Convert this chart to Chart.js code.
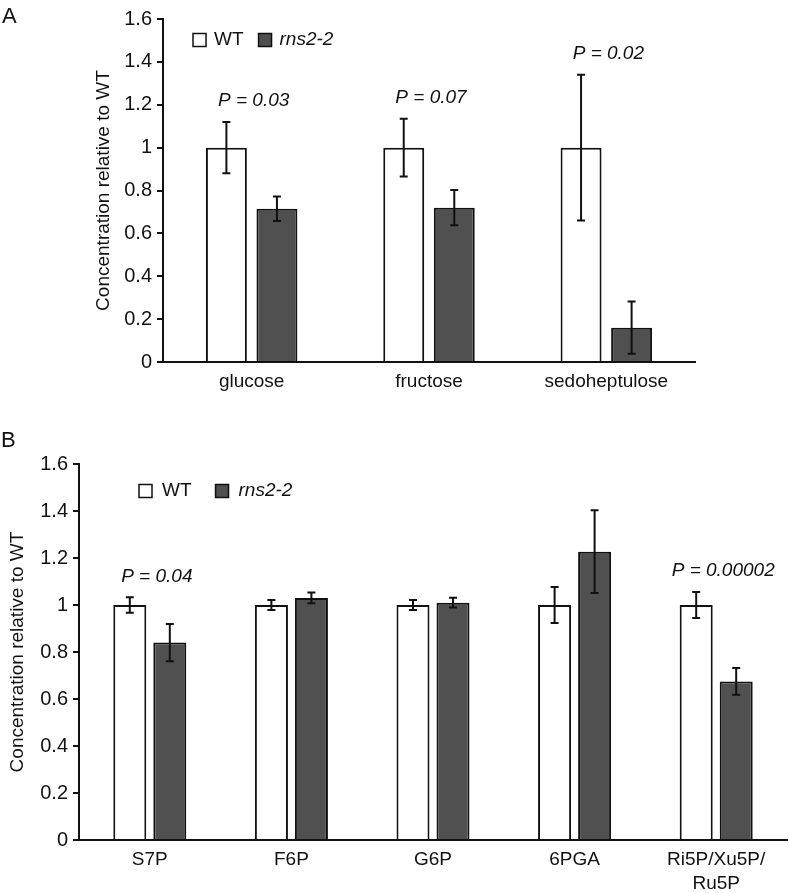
<!DOCTYPE html>
<html><head><meta charset="utf-8">
<script src="https://cdn.jsdelivr.net/npm/chart.js@4.4.1/dist/chart.umd.min.js"></script>
<style>
html,body{margin:0;padding:0;background:#fff;}
#wrap{position:relative;width:789px;height:893px;overflow:hidden;font-family:"Liberation Sans",Arial,Helvetica,sans-serif;}
.panel{position:absolute;font-size:22px;line-height:1;color:#111;}
canvas{position:absolute;left:0;}
</style></head><body>
<div id="wrap">
<canvas id="cA" style="top:0;width:789px;height:395px"></canvas>
<canvas id="cB" style="top:395px;width:789px;height:498px"></canvas>
<div class="panel" style="left:2px;top:5px">A</div>
<div class="panel" style="left:1px;top:429px">B</div>
</div>
<script>
// ---- data ----
const seriesNames = ['WT', 'rns2-2'];
const yTickLabels = ['0', '0.2', '0.4', '0.6', '0.8', '1', '1.2', '1.4', '1.6'];

const categoriesA = ['glucose', 'fructose', 'sedoheptulose'];
const wtA = [1.0, 1.0, 1.0];
const wtErrA = [0.12, 0.135, 0.34];
const rnsA = [0.715, 0.72, 0.16];
const rnsErrA = [0.057, 0.082, 0.122];
const pValuesA = ['P = 0.03', 'P = 0.07', 'P = 0.02'];

const categoriesB = ['S7P', 'F6P', 'G6P', '6PGA', ['Ri5P/Xu5P/', 'Ru5P']];
const wtB = [1.0, 1.0, 1.0, 1.0, 1.0];
const wtErrB = [0.033, 0.021, 0.021, 0.077, 0.055];
const rnsB = [0.84, 1.03, 1.01, 1.227, 0.675];
const rnsErrB = [0.079, 0.023, 0.021, 0.176, 0.057];
const pValuesB = ['P = 0.04', '', '', '', 'P = 0.00002'];

// ---- styling ----
const FONT = '"Liberation Sans", Arial, Helvetica, sans-serif';
const INK = '#111111';
const DARK = '#505050';

const errorBars = {
  id: 'errorBars',
  afterDatasetsDraw(chart, args, opts) {
    const ctx = chart.ctx, y = chart.scales.y;
    ctx.save();
    ctx.strokeStyle = INK; ctx.lineWidth = 2;
    chart.data.datasets.forEach((ds, di) => {
      chart.getDatasetMeta(di).data.forEach((bar, i) => {
        const v = ds.data[i], e = ds.errors[i];
        const yt = y.getPixelForValue(v + e), yb = y.getPixelForValue(v - e);
        const x = bar.x, c = opts.cap;
        ctx.beginPath();
        ctx.moveTo(x, yt); ctx.lineTo(x, yb);
        ctx.moveTo(x - c, yt); ctx.lineTo(x + c, yt);
        ctx.moveTo(x - c, yb); ctx.lineTo(x + c, yb);
        ctx.stroke();
      });
    });
    ctx.restore();
  }
};

const pLabels = {
  id: 'pLabels',
  afterDatasetsDraw(chart, args, opts) {
    const ctx = chart.ctx, y = chart.scales.y, x = chart.scales.x;
    ctx.save();
    ctx.fillStyle = INK;
    ctx.font = 'italic 19px ' + FONT;
    ctx.textAlign = 'center'; ctx.textBaseline = 'middle';
    opts.labels.forEach((t, i) => {
      if (!t) return;
      let top = Infinity;
      chart.data.datasets.forEach(ds => {
        top = Math.min(top, y.getPixelForValue(ds.data[i] + ds.errors[i]));
      });
      ctx.fillText(t, x.getPixelForValue(i) + opts.dx, top - opts.gap);
    });
    ctx.restore();
  }
};

const customLegend = {
  id: 'customLegend',
  afterDraw(chart, args, opts) {
    const ctx = chart.ctx, a = chart.chartArea;
    let x = a.left + opts.dx;
    const yc = a.top + opts.dy;
    ctx.save();
    ctx.textBaseline = 'middle'; ctx.textAlign = 'left';
    chart.data.datasets.forEach(ds => {
      ctx.fillStyle = ds.backgroundColor;
      ctx.fillRect(x, yc - 6.5, 13, 13);
      ctx.strokeStyle = INK; ctx.lineWidth = 1.5;
      ctx.strokeRect(x, yc - 6.5, 13, 13);
      x += 13 + opts.textGap;
      ctx.fillStyle = INK;
      ctx.font = (ds.italic ? 'italic ' : '') + '19px ' + FONT;
      ctx.fillText(ds.label, x, yc);
      x += ctx.measureText(ds.label).width + opts.itemGap;
    });
    ctx.restore();
  }
};

function makeChart(id, cats, wt, wtErr, rns, rnsErr, pv, cfg) {
  return new Chart(document.getElementById(id), {
    type: 'bar',
    data: {
      labels: cats,
      datasets: [
        { label: seriesNames[0], data: wt, errors: wtErr, backgroundColor: '#ffffff',
          borderColor: INK, borderWidth: 2, categoryPercentage: cfg.cat, barPercentage: cfg.bar },
        { label: seriesNames[1], data: rns, errors: rnsErr, italic: true, backgroundColor: DARK,
          borderColor: INK, borderWidth: 2, categoryPercentage: cfg.cat, barPercentage: cfg.bar }
      ]
    },
    options: {
      responsive: false, animation: false, devicePixelRatio: 1,
      layout: { padding: { top: cfg.top, right: cfg.right, left: 0, bottom: 0 } },
      plugins: {
        legend: { display: false }, tooltip: { enabled: false },
        errorBars: { cap: cfg.cap },
        pLabels: { labels: pv, dx: cfg.pdx, gap: 21 },
        customLegend: cfg.legend
      },
      scales: {
        x: {
          grid: { display: false, drawTicks: false },
          border: { display: true, color: INK, width: 2 },
          ticks: { color: INK, font: { family: FONT, size: 19, lineHeight: 1.25 }, padding: cfg.xpad, maxRotation: 0, autoSkip: false },
          afterFit(s) { s.height = cfg.xh; }
        },
        y: {
          min: 0, max: 1.6,
          ticks: { stepSize: 0.2, color: INK, font: { family: FONT, size: 20 }, padding: 5,
                   callback: (v, i) => yTickLabels[i] },
          grid: { drawOnChartArea: false, drawTicks: true, tickLength: 6, color: INK, lineWidth: 2 },
          border: { display: true, color: INK, width: 2 },
          title: { display: true, text: 'Concentration relative to WT', color: INK,
                   font: { family: FONT, size: 19 }, padding: { top: cfg.tpad, bottom: 0 } },
          afterFit(s) { s.width = cfg.yw; }
        }
      }
    },
    plugins: [errorBars, pLabels, customLegend]
  });
}

makeChart('cA', categoriesA, wtA, wtErrA, rnsA, rnsErrA, pValuesA,
  { cat: 0.57, bar: 0.81, top: 19, right: 94, xh: 33, yw: 163, tpad: 92, xpad: 8, cap: 4, pdx: 2,
    legend: { dx: 30, dy: 21, textGap: 8, itemGap: 15 } });
makeChart('cB', categoriesB, wtB, wtErrB, rnsB, rnsErrB, pValuesB,
  { cat: 0.565, bar: 0.825, top: 69, right: 2, xh: 53, yw: 79, tpad: 6, xpad: 8, cap: 4, pdx: 7,
    legend: { dx: 60, dy: 27, textGap: 10, itemGap: 24 } });
</script>
</body></html>
